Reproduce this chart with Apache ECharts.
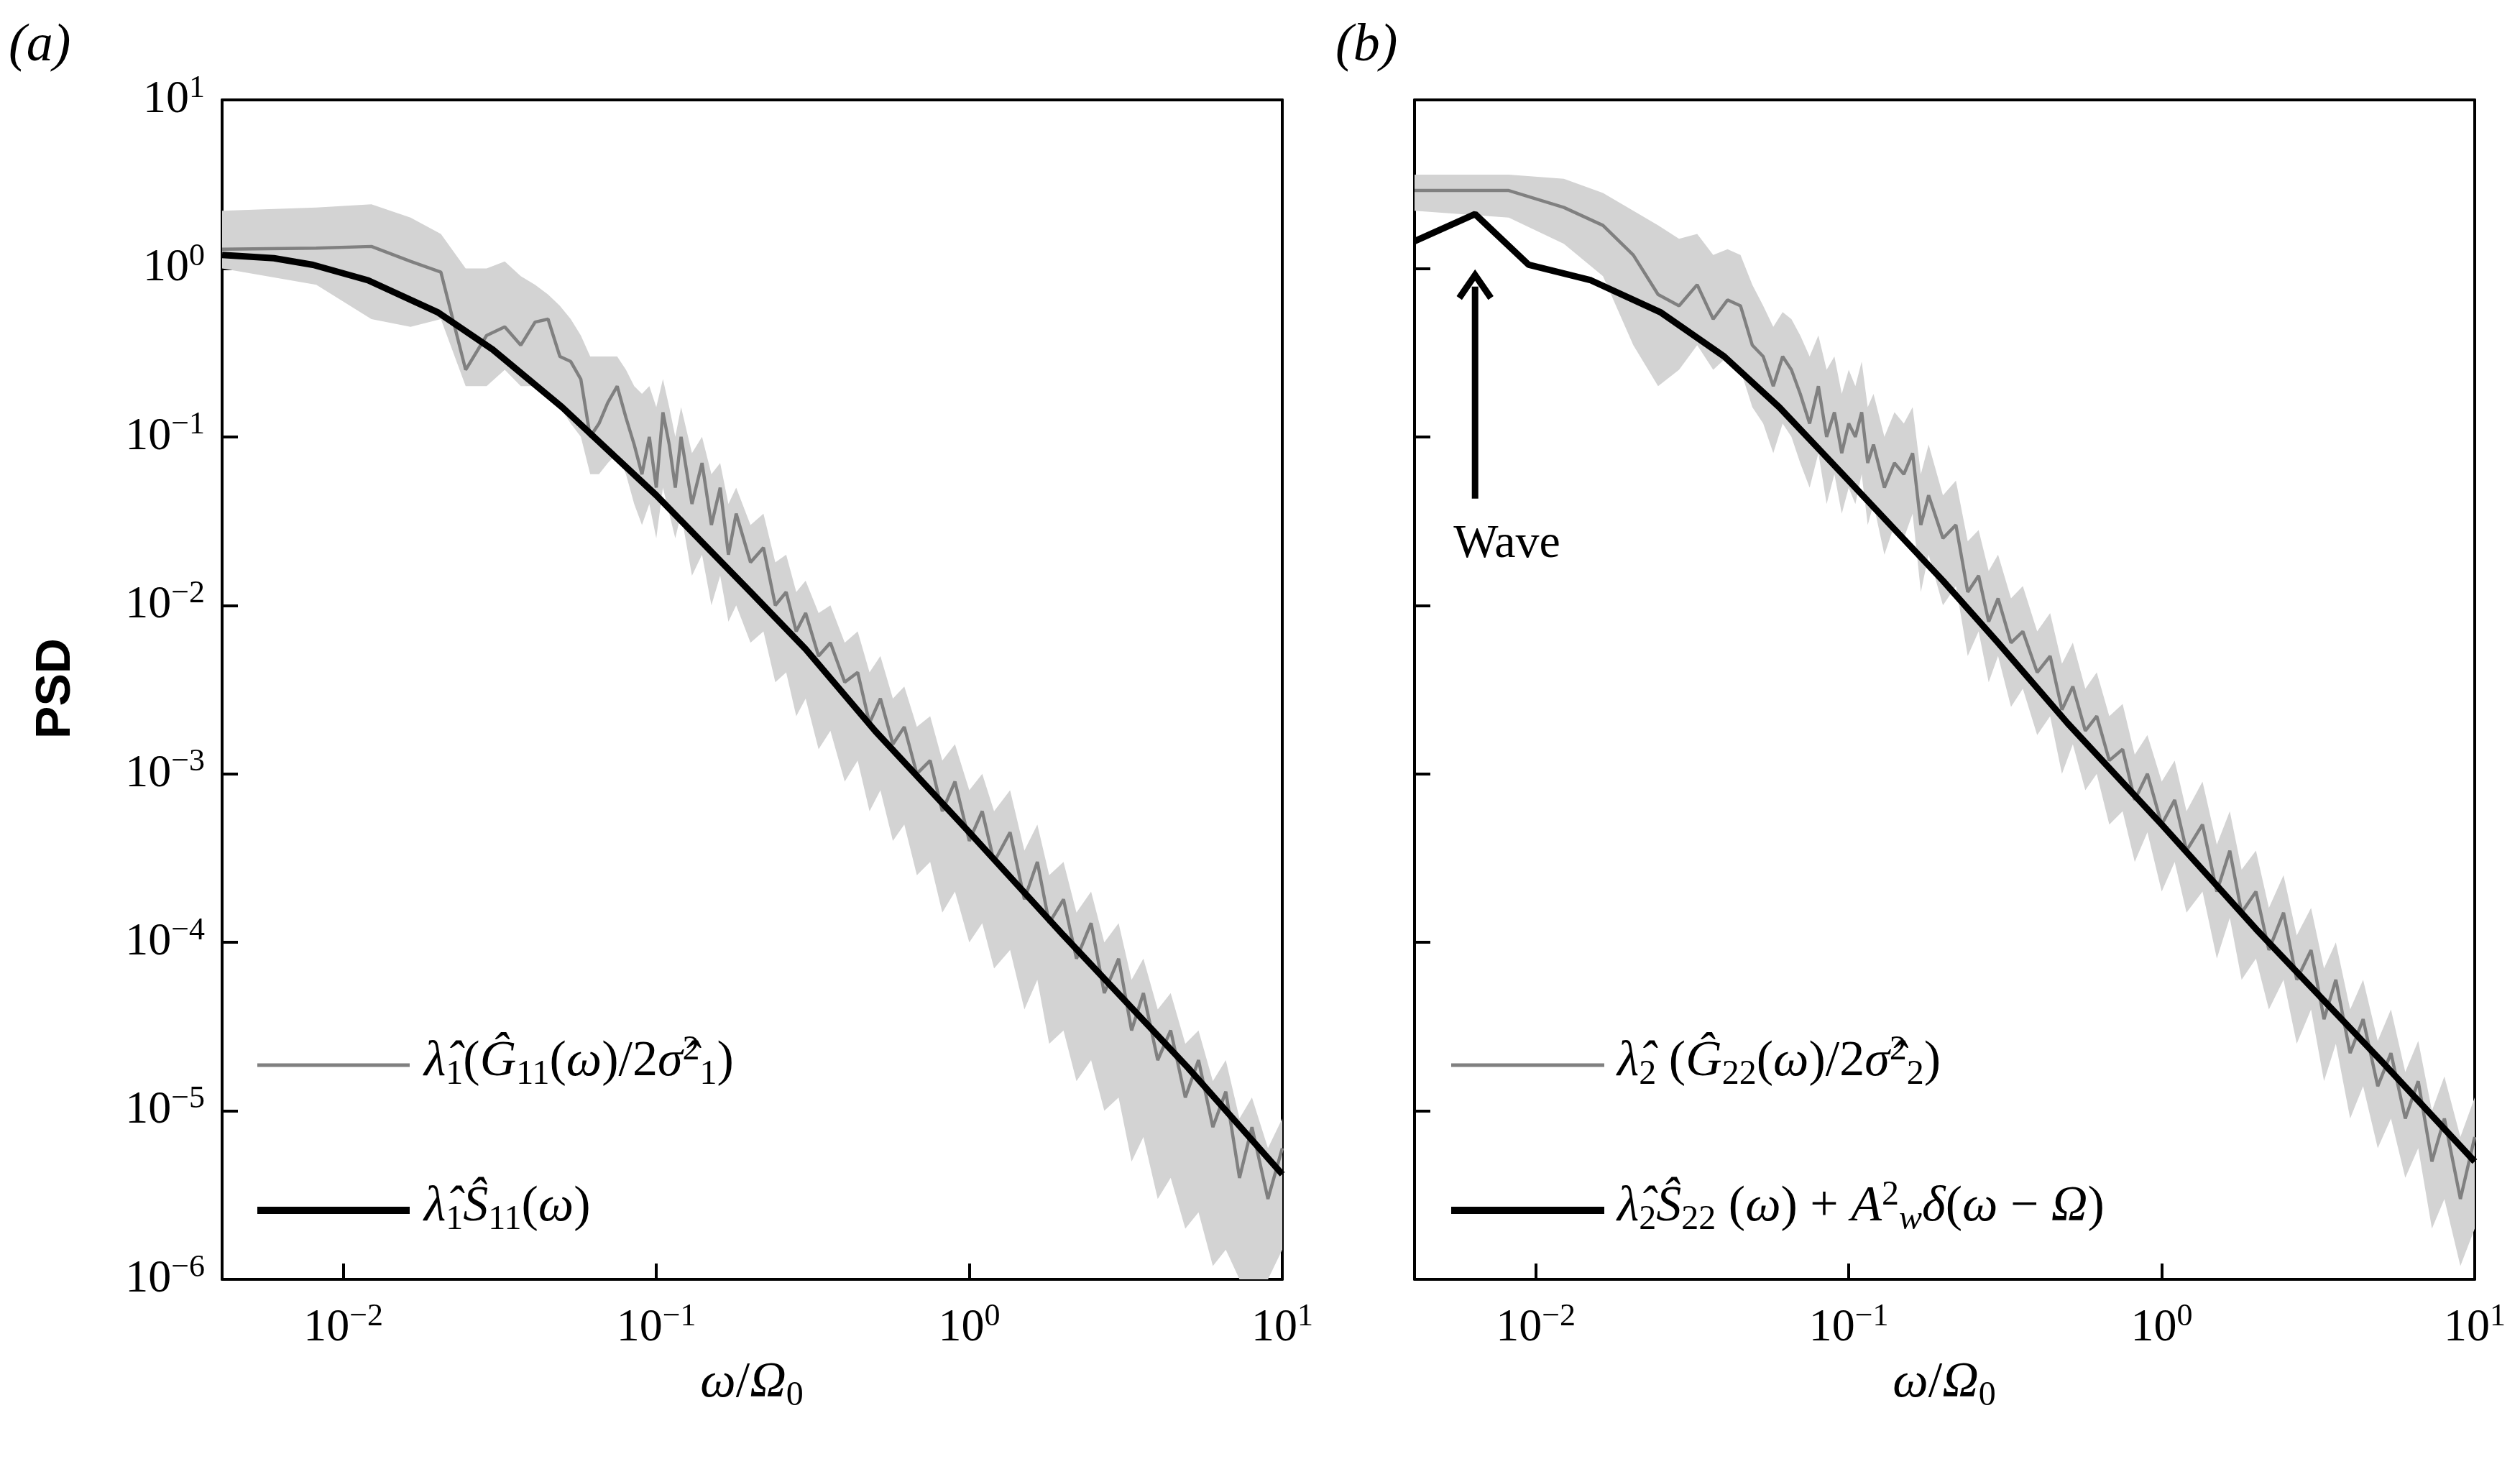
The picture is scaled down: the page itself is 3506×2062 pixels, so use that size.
<!DOCTYPE html>
<html><head><meta charset="utf-8">
<script src="https://cdn.jsdelivr.net/npm/echarts@6/dist/echarts.min.js"></script>
<style>html,body{margin:0;padding:0;background:#fff}#c{width:3506px;height:2062px}</style>
</head><body><div id="c"></div>
<script>
const freq=[0.0041,0.0082,0.0123,0.0164,0.0205,0.0246,0.0287,0.0328,0.0369,0.041,0.0451,0.0492,0.0533,0.0574,0.0615,0.0656,0.07,0.075,0.08,0.085,0.09,0.095,0.1,0.105,0.11,0.115,0.12,0.13,0.14,0.15,0.16,0.17,0.18,0.2,0.22,0.24,0.26,0.28,0.3,0.33,0.36,0.4,0.44,0.48,0.52,0.57,0.62,0.68,0.75,0.82,0.9,1.0,1.1,1.2,1.35,1.5,1.65,1.8,2.0,2.2,2.45,2.7,3.0,3.3,3.6,4.0,4.4,4.9,5.4,6.0,6.6,7.3,8.0,9.0,10.0];
const grayA=[1.3,1.32,1.35,1.1,0.95,0.25,0.4,0.45,0.35,0.48,0.5,0.3,0.28,0.22,0.1,0.12,0.16,0.2,0.13,0.09,0.06,0.1,0.05,0.14,0.09,0.05,0.1,0.04,0.07,0.03,0.05,0.02,0.035,0.018,0.022,0.01,0.012,0.007,0.009,0.005,0.006,0.0035,0.004,0.002,0.0028,0.0015,0.0019,0.001,0.0012,0.0006,0.0009,0.0004,0.0006,0.0003,0.00045,0.00018,0.0003,0.00013,0.00018,0.00008,0.00013,0.00005,0.00008,0.00003,0.00005,0.00002,0.00003,0.000012,0.00002,0.000008,0.000013,0.000004,0.000008,0.000003,0.000006];
const hiA=[2.2,2.3,2.4,2.0,1.6,1.0,1.0,1.1,0.9,0.8,0.7,0.6,0.5,0.4,0.3,0.3,0.3,0.3,0.25,0.2,0.18,0.2,0.15,0.22,0.15,0.1,0.15,0.08,0.1,0.06,0.07,0.04,0.05,0.03,0.035,0.018,0.02,0.012,0.014,0.009,0.01,0.006,0.007,0.004,0.005,0.0028,0.0033,0.0019,0.0022,0.0012,0.0015,0.0008,0.001,0.0006,0.0008,0.00035,0.0005,0.00025,0.0003,0.00015,0.0002,0.0001,0.00013,0.00006,0.00008,0.00004,0.00005,0.000025,0.00003,0.000015,0.00002,0.000009,0.000012,0.000006,0.000009];
const loA=[1.0,0.8,0.5,0.45,0.5,0.2,0.2,0.25,0.2,0.2,0.18,0.15,0.12,0.1,0.06,0.06,0.07,0.08,0.06,0.04,0.03,0.04,0.025,0.05,0.035,0.025,0.035,0.015,0.02,0.01,0.015,0.008,0.01,0.006,0.007,0.0035,0.004,0.0022,0.0028,0.0014,0.0018,0.0009,0.0012,0.0006,0.0008,0.0004,0.0005,0.00025,0.0003,0.00015,0.0002,0.0001,0.00013,0.00007,0.00009,0.00004,0.00006,0.000025,0.00003,0.000015,0.00002,0.00001,0.000012,0.000005,0.000007,0.000003,0.000004,0.000002,0.0000025,0.0000012,0.0000015,0.000001,0.000001,0.000001,0.0000015];
const grayB=[2.9,2.9,2.3,1.8,1.2,0.7,0.6,0.8,0.5,0.65,0.6,0.35,0.3,0.2,0.3,0.25,0.18,0.12,0.2,0.1,0.14,0.08,0.12,0.1,0.14,0.07,0.09,0.05,0.07,0.06,0.08,0.03,0.045,0.025,0.03,0.012,0.015,0.008,0.011,0.006,0.007,0.004,0.005,0.0024,0.0033,0.0018,0.0022,0.0012,0.0014,0.0007,0.001,0.0005,0.0007,0.00035,0.0005,0.0002,0.00035,0.00015,0.0002,0.00009,0.00015,0.00006,0.00009,0.000035,0.00006,0.000022,0.000035,0.000014,0.000022,0.000009,0.000015,0.000005,0.000009,0.000003,0.000007];
const hiB=[3.6,3.6,3.4,2.8,2.2,1.8,1.5,1.6,1.2,1.3,1.2,0.8,0.6,0.45,0.55,0.5,0.4,0.3,0.4,0.25,0.3,0.18,0.25,0.2,0.28,0.15,0.18,0.1,0.14,0.12,0.15,0.06,0.09,0.045,0.055,0.024,0.028,0.016,0.02,0.011,0.013,0.007,0.009,0.0045,0.006,0.0032,0.004,0.0022,0.0026,0.0013,0.0017,0.0009,0.0012,0.0006,0.0009,0.00038,0.0006,0.00027,0.00035,0.00016,0.00025,0.00011,0.00016,0.00007,0.0001,0.00004,0.00006,0.000026,0.00004,0.000017,0.000026,0.00001,0.000016,0.000007,0.000012];
const loB=[2.2,2.0,1.4,0.9,0.35,0.2,0.25,0.35,0.25,0.3,0.25,0.15,0.12,0.08,0.12,0.1,0.07,0.05,0.08,0.04,0.06,0.035,0.05,0.04,0.06,0.03,0.04,0.02,0.03,0.025,0.035,0.012,0.02,0.01,0.013,0.005,0.007,0.0035,0.005,0.0025,0.0032,0.0017,0.0022,0.001,0.0015,0.0008,0.001,0.0005,0.0006,0.0003,0.00045,0.0002,0.0003,0.00015,0.0002,0.00008,0.00014,0.00006,0.00008,0.00004,0.00006,0.000025,0.00004,0.000015,0.000025,0.000009,0.000014,0.000006,0.000009,0.000004,0.000006,0.000002,0.000003,0.0000012,0.000002];
const blackAx=[0.0041,0.006,0.008,0.012,0.02,0.03,0.05,0.1,0.2,0.3,0.5,1,2,5,10];
const blackAy=[1.2,1.15,1.05,0.85,0.55,0.33,0.15,0.045,0.012,0.0055,0.0018,0.00045,0.00011,0.000018,0.0000042];
const blackBx=[0.0041,0.0064,0.0095,0.015,0.025,0.04,0.06,0.1,0.2,0.3,0.5,1,2,5,10];
const blackBy=[1.45,2.1,1.05,0.85,0.55,0.3,0.15,0.055,0.014,0.006,0.002,0.0005,0.00012,0.00002,0.000005];
const xTicks=[0.01,0.1,1,10];
const wave=[[0.0064,0.043,0.95]];
function lab(v){const e=Math.round(Math.log10(v));return '{b|10}{s|'+(e<0?'−':'')+Math.abs(e)+'}';}
const F="Liberation Serif";
const rich={b:{fontFamily:F,fontSize:64,color:'#000'},s:{fontFamily:F,fontSize:44,color:'#000',padding:[0,0,32,0]}};
const grids=[{left:309,top:139,width:1475,height:1641},{left:1968,top:139,width:1475,height:1641}];
const xAxis=[],yAxis=[];
for(let g=0;g<2;g++){
  xAxis.push({type:'log',gridIndex:g,min:0.0041,max:10,position:'bottom',axisLine:{lineStyle:{color:'#000',width:4}},
    axisTick:{inside:true,length:22,lineStyle:{width:4,color:'#000'},customValues:xTicks},
    axisLabel:{customValues:xTicks,formatter:lab,rich:rich,margin:30},splitLine:{show:false}});
  xAxis.push({type:'log',gridIndex:g,min:0.0041,max:10,position:'top',axisLine:{lineStyle:{color:'#000',width:4}},
    axisTick:{show:false},axisLabel:{show:false},splitLine:{show:false}});
  yAxis.push({type:'log',gridIndex:g,min:1e-6,max:10,logBase:10,position:'left',axisLine:{lineStyle:{color:'#000',width:4}},
    axisTick:{inside:true,length:22,lineStyle:{width:4,color:'#000'}},
    axisLabel:{show:g===0,formatter:lab,rich:rich,margin:24},splitLine:{show:false}});
  yAxis.push({type:'log',gridIndex:g,min:1e-6,max:10,logBase:10,position:'right',axisLine:{lineStyle:{color:'#000',width:4}},
    axisTick:{show:false},axisLabel:{show:false},splitLine:{show:false}});
}
function band(g,lo,hi){
  return {type:'custom',xAxisIndex:g*2,yAxisIndex:g*2,clip:true,z:1,data:freq.map((f,i)=>[f,lo[i],hi[i]]),
    renderItem:function(params,api){
      if(params.dataIndex!==0)return null;
      const pts=[];
      for(let i=0;i<freq.length;i++)pts.push(api.coord([freq[i],hi[i]]));
      for(let i=freq.length-1;i>=0;i--)pts.push(api.coord([freq[i],lo[i]]));
      return {type:'polygon',shape:{points:pts},style:{fill:'#d3d3d3',stroke:null}};
    }};
}
function line(g,xs,ys,color,w,z){return {type:'line',xAxisIndex:g*2,yAxisIndex:g*2,data:xs.map((x,i)=>[x,ys[i]]),showSymbol:false,symbol:'none',lineStyle:{color:color,width:w},z:z,clip:true};}
const series=[band(0,loA,hiA),line(0,freq,grayA,'#808080',4.5,2),line(0,blackAx,blackAy,'#000',9,3),
  band(1,loB,hiB),line(1,freq,grayB,'#808080',4.5,2),line(1,blackBx,blackBy,'#000',9,3),
  {type:'custom',xAxisIndex:2,yAxisIndex:2,z:5,data:wave,renderItem:function(p,api){
    const a=api.coord([api.value(0),api.value(1)]),b=api.coord([api.value(0),api.value(2)]);
    return {type:'group',children:[
      {type:'line',shape:{x1:a[0],y1:a[1],x2:b[0],y2:b[1]+20},style:{stroke:'#000',lineWidth:9}},
      {type:'polyline',shape:{points:[[b[0]-22,b[1]+36],[b[0],b[1]+4],[b[0]+22,b[1]+36]]},style:{stroke:'#000',lineWidth:9,fill:null,lineJoin:'miter'}},
      {type:'text',style:{text:'Wave',x:a[0]-30,y:a[1]+64,align:'left',verticalAlign:'middle',font:"66px 'Liberation Serif', serif",fill:'#000'}}]};
  }}];
const lrich={n:{fontFamily:F,fontSize:70,color:'#000'},i:{fontFamily:F,fontSize:70,fontStyle:'italic',color:'#000'},
  d:{fontFamily:F,fontSize:48,color:'#000',padding:[34,0,0,0]},u:{fontFamily:F,fontSize:48,color:'#000',padding:[0,0,34,0]},
  di:{fontFamily:F,fontSize:48,fontStyle:'italic',color:'#000',padding:[34,0,0,0]}};
function rt(t,x,y){return {type:'text',x:x,y:y,style:{text:t,rich:lrich,verticalAlign:'middle',fill:'#000'}};}
const graphic=[
  {type:'line',shape:{x1:358,y1:1482,x2:570,y2:1482},style:{stroke:'#808080',lineWidth:5}},
  {type:'line',shape:{x1:358,y1:1684,x2:570,y2:1684},style:{stroke:'#000',lineWidth:10}},
  {type:'line',shape:{x1:2019,y1:1482,x2:2232,y2:1482},style:{stroke:'#808080',lineWidth:5}},
  {type:'line',shape:{x1:2019,y1:1684,x2:2232,y2:1684},style:{stroke:'#000',lineWidth:10}},
  rt('{i|λ̂}{d|1}{n|(}{i|Ĝ}{d|11}{n|(}{i|ω}{n|)/2}{i|σ̂}{u|2}{d|1}{n|)}',590,1478),
  rt('{i|λ̂}{d|1}{i|Ŝ}{d|11}{n|(}{i|ω}{n|)}',590,1680),
  rt('{i|λ̂}{d|2}{n| (}{i|Ĝ}{d|22}{n|(}{i|ω}{n|)/2}{i|σ̂}{u|2}{d|2}{n|)}',2250,1478),
  rt('{i|λ̂}{d|2}{i|Ŝ}{d|22}{n| (}{i|ω}{n|) + }{i|A}{u|2}{di|w}{i|δ}{n|(}{i|ω}{n| − }{i|Ω}{n|)}',2250,1680),
  {type:'text',x:12,y:65,style:{text:'(a)',font:"italic 74px 'Liberation Serif', serif",fill:'#000',verticalAlign:'middle'}},
  {type:'text',x:1858,y:65,style:{text:'(b)',font:"italic 74px 'Liberation Serif', serif",fill:'#000',verticalAlign:'middle'}},
  {type:'text',x:78,y:958,rotation:Math.PI/2,style:{text:'PSD',font:"bold 68px 'Liberation Sans', sans-serif",fill:'#000',align:'center',verticalAlign:'middle'}},
  {type:'text',x:1046,y:1925,style:{text:'{i|ω}{n|/}{i|Ω}{d|0}',rich:lrich,align:'center',verticalAlign:'middle'}},
  {type:'text',x:2705,y:1925,style:{text:'{i|ω}{n|/}{i|Ω}{d|0}',rich:lrich,align:'center',verticalAlign:'middle'}}
];
const chart=echarts.init(document.getElementById('c'));
chart.setOption({animation:false,backgroundColor:'#fff',grid:grids,xAxis:xAxis,yAxis:yAxis,series:series,graphic:graphic});
</script></body></html>
